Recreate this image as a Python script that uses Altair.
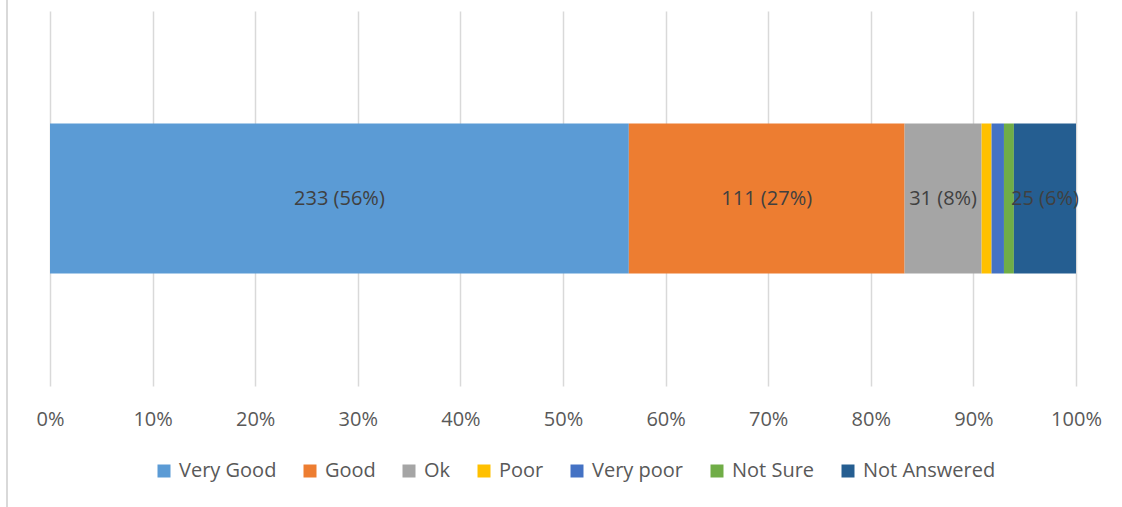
import altair as alt
import pandas as pd

categories = ["Very Good", "Good", "Ok", "Poor", "Very poor", "Not Sure", "Not Answered"]
counts = [233, 111, 31, 4, 5, 4, 25]
show_label = [True, True, True, False, False, False, True]
colors = ["#5B9BD5", "#ED7D31", "#A5A5A5", "#FFC000", "#4472C4", "#70AD47", "#255E91"]

df = pd.DataFrame({
    "category": categories,
    "count": counts,
    "order": list(range(len(categories))),
    "show": show_label,
    "row": ["r"] * len(categories),
})

FONT = "Open Sans"

base = alt.Chart(df).transform_joinaggregate(
    total="sum(count)"
).transform_window(
    cum="sum(count)", sort=[alt.SortField("order")], frame=[None, 0]
).transform_calculate(
    start="(datum.cum - datum.count) / datum.total",
    end="datum.cum / datum.total",
    mid="(datum.cum - datum.count / 2) / datum.total",
    label="datum.show ? datum.count + ' (' + format(datum.count / datum.total, '.0%') + ')' : ''",
)

yenc = alt.Y("row:N", axis=None, scale=alt.Scale(paddingInner=0, paddingOuter=0.75))

bars = base.mark_bar().encode(
    x=alt.X(
        "start:Q",
        scale=alt.Scale(domain=[0, 1], nice=False),
        axis=alt.Axis(
            format=".0%", values=[i / 10 for i in range(11)], title=None,
            domain=False, ticks=False, grid=True, gridColor="#d9d9d9", gridWidth=1.5,
            labelFont=FONT, labelFontSize=20, labelColor="#595959", labelPadding=23,
            labelFlush=False, labelOverlap=False, labelBound=False,
        ),
    ),
    x2="end:Q",
    y=yenc,
    color=alt.Color(
        "category:N",
        scale=alt.Scale(domain=categories, range=colors),
        legend=alt.Legend(
            title=None, orient="none", direction="horizontal", legendX=104, legendY=450,
            symbolType="square", symbolSize=169, symbolStrokeWidth=0, symbolOpacity=1,
            labelFont=FONT, labelFontSize=20, labelColor="#595959", columnPadding=23,
            labelOffset=5,
        ),
    ),
)

texts = base.mark_text(font=FONT, fontSize=20, color="#404040").encode(
    x="mid:Q",
    y=yenc,
    text="label:N",
)

border = alt.Chart(df).mark_rule(color="#d9d9d9", strokeWidth=2).encode(
    x=alt.value(-43), y=alt.value(-11), y2=alt.value(500)
)

chart = alt.layer(bars, texts, border).properties(
    width=1026, height=375,
    autosize=alt.AutoSizeParams(type="none"),
    padding={"left": 50, "top": 11, "right": 46, "bottom": 121},
).configure_view(stroke=None)

chart.save("out.html", embed_options={"renderer": "svg", "actions": False})
